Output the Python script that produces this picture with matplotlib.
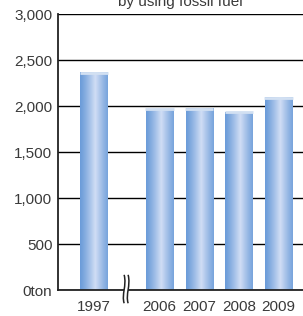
import numpy as np
import matplotlib.pyplot as plt
from matplotlib.path import Path
from matplotlib.patches import PathPatch, Rectangle
import matplotlib.transforms as mtransforms

plt.rcParams['font.family'] = ['Liberation Sans', 'DejaVu Sans']

years = ['1997', '2006', '2007', '2008', '2009']
emissions = [2359, 1967, 1972, 1931, 2087]
y_ticks = [0, 500, 1000, 1500, 2000, 2500, 3000]
y_labels = ['0ton', '500', '1,000', '1,500', '2,000', '2,500', '3,000']
title = 'by using fossil fuel'

# 1997 stands apart from the rest, with an axis break between
xpos = [0, 1.64, 2.64, 3.64, 4.64]
bar_w = 0.68
edge_col = np.array([0.42, 0.61, 0.85])
mid_col = np.array([0.82, 0.87, 0.96])

fig = plt.figure(figsize=(3.03, 3.16), dpi=100)
ax = fig.add_axes([58 / 303, 26 / 316, 1 - 58 / 303 + 0.01, 276 / 316])
ax.set_xlim(-0.9, 5.225 + 0.1)
ax.set_ylim(0, 3000)

# gradient strip: dark at edges, light in the middle
t = np.linspace(0, 1, 64)
w = 1 - np.abs(t - 0.55) / 0.55
w = np.clip(w, 0, 1) ** 1.2
grad = edge_col[None, :] * (1 - w[:, None]) + mid_col[None, :] * w[:, None]
grad = grad[None, :, :]

for x, v in zip(xpos, emissions):
    ax.imshow(grad, extent=[x - bar_w / 2, x + bar_w / 2, 0, v],
              aspect='auto', zorder=3, interpolation='bilinear')
    # light cap on top of each bar
    ax.plot([x - bar_w / 2 - 0.02, x + bar_w / 2 + 0.02], [v, v],
            color='#d2e0f2', lw=2, zorder=4, solid_capstyle='butt')

ax.set_yticks(y_ticks)
ax.set_yticklabels(y_labels)
ax.set_xticks(xpos)
ax.set_xticklabels(years)
ax.tick_params(axis='both', length=0, labelsize=11, colors='#3a3a3a')
ax.tick_params(axis='y', pad=4)
ax.tick_params(axis='x', pad=7)
ax.grid(axis='y', color='black', lw=1)
ax.set_axisbelow(True)
for s in ['top', 'right']:
    ax.spines[s].set_visible(False)
for s in ['left', 'bottom']:
    ax.spines[s].set_linewidth(1.3)
    ax.spines[s].set_color('#222222')
    ax.spines[s].set_zorder(5)

# axis break symbol across the x axis
trans = mtransforms.blended_transform_factory(ax.transData, ax.transAxes)
ax.add_patch(Rectangle((0.76, -0.01), 0.1, 0.02, facecolor='white', edgecolor='none',
                       transform=trans, clip_on=False, zorder=6))
for xb in (0.76, 0.86):
    verts = [(xb, 0.055), (xb + 0.07, 0.015), (xb - 0.07, -0.015), (xb, -0.048)]
    path = Path(verts, [Path.MOVETO, Path.CURVE4, Path.CURVE4, Path.CURVE4])
    ax.add_patch(PathPatch(path, fill=False, lw=1.1, color='#222222',
                           transform=trans, clip_on=False, zorder=7))

fig.text((58 + 303) / 2 / 303, 1 - 6 / 316, title, ha='center', va='baseline',
         fontsize=11, color='#3a3a3a')

fig.savefig('out.png', dpi=100)
